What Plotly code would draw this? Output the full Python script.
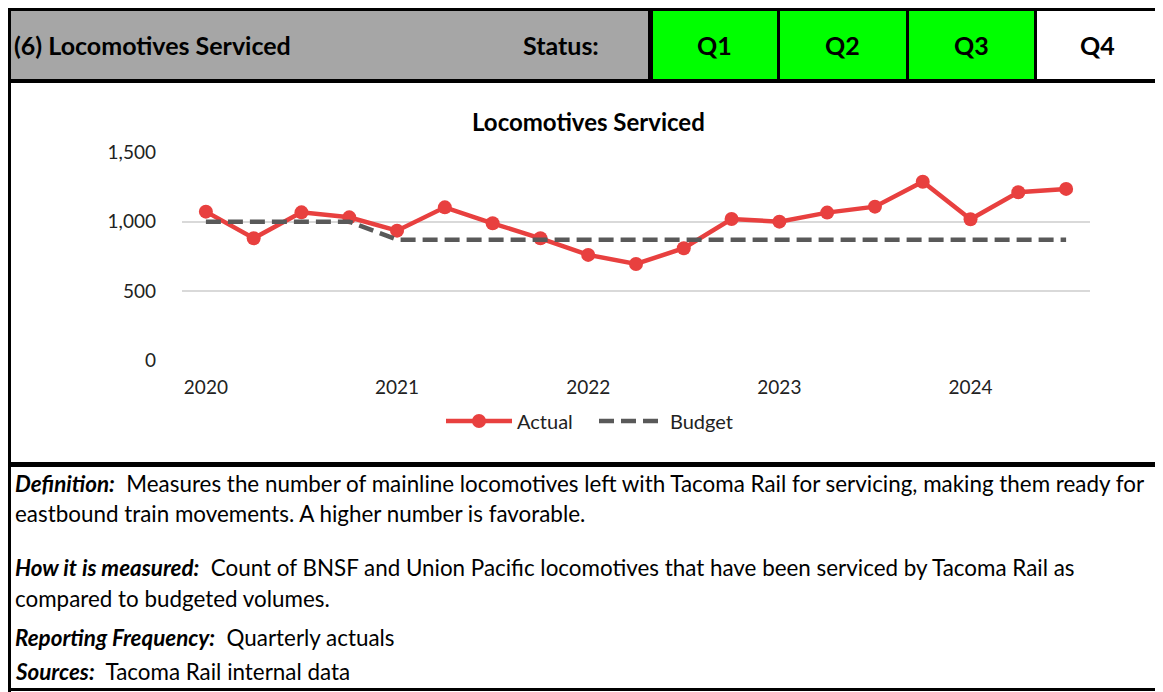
import plotly.graph_objects as go

# The page body has an 8px margin, so the figure is sized to the visible area
# and all positions below are given in reference-picture pixels.
OFF = 8
W, H = 1163 - OFF, 692 - OFF

quarters = ["2020 Q1", "2020 Q2", "2020 Q3", "2020 Q4",
            "2021 Q1", "2021 Q2", "2021 Q3", "2021 Q4",
            "2022 Q1", "2022 Q2", "2022 Q3", "2022 Q4",
            "2023 Q1", "2023 Q2", "2023 Q3", "2023 Q4",
            "2024 Q1", "2024 Q2", "2024 Q3"]
actual = [1072, 880, 1067, 1031, 935, 1103, 988, 880, 760, 695,
          808, 1019, 1000, 1065, 1108, 1288, 1017, 1212, 1236]
budget = [1000, 1000, 1000, 1000, 870, 870, 870, 870, 870, 870,
          870, 870, 870, 870, 870, 870, 870, 870, 870]
year_ticks = [0, 4, 8, 12, 16]
year_labels = ["2020", "2021", "2022", "2023", "2024"]
y_ticks = [0, 500, 1000, 1500]
y_labels = ["0", "500", "1,000", "1,500"]

status_labels = ["Q1", "Q2", "Q3", "Q4"]
status_colors = ["#00FF00", "#00FF00", "#00FF00", "#FFFFFF"]

FONT = "Lato"

def px(x):
    return (x - OFF) / W

def py(y):
    return 1 - (y - OFF) / H

xidx = list(range(len(quarters)))

fig = go.Figure()
fig.add_trace(go.Scatter(
    x=xidx, y=actual, name="Actual", mode="lines+markers",
    line=dict(color="#E8403F", width=4.5),
    marker=dict(color="#E8403F", size=14, symbol="circle"),
    text=quarters, hovertemplate="%{text}: %{y:,}<extra>Actual</extra>"))
fig.add_trace(go.Scatter(
    x=xidx, y=budget, name="Budget", mode="lines",
    line=dict(color="#595959", width=4.5, dash="15px,7px"),
    text=quarters, hovertemplate="%{text}: %{y:,}<extra>Budget</extra>"))

shapes = []
def rect(x0, y0, x1, y1, fill, layer="below"):
    shapes.append(dict(type="rect", xref="paper", yref="paper",
                       x0=px(x0), x1=px(x1), y0=py(y1), y1=py(y0),
                       fillcolor=fill, line=dict(width=0), layer=layer))

# header block
rect(8, 8, 1163, 83, "#000000")
rect(11, 11, 648, 79, "#A6A6A6")
cells = [(653, 777), (780, 906), (909, 1034), (1037, 1158)]
for (a, b), c in zip(cells, status_colors):
    rect(a, 11, b, 79, c)
# chart / text area borders
rect(8, 83, 11, 692, "#000000")
rect(1159, 83, 1162, 692, "#000000")
rect(8, 462, 1163, 467, "#000000")
rect(8, 688, 1163, 691, "#000000")

ann = []
def text(x, y, s, size, xanchor="left", color="#000000"):
    ann.append(dict(xref="paper", yref="paper", x=px(x), y=py(y), text=s,
                    showarrow=False, xanchor=xanchor, yanchor="middle",
                    font=dict(family=FONT, size=size, color=color)))

text(12, 45, "<b>(6) Locomotives Serviced</b>", 25)
text(561, 45, "<b>Status:</b>", 25, xanchor="center")
for (a, b), lab in zip(cells, status_labels):
    text((a + b) / 2, 45, "<b>" + lab + "</b>", 25, xanchor="center")
text(588, 121, "<b>Locomotives Serviced</b>", 24, xanchor="center")

nb = "\u00a0\u00a0"
TS = 22.4
TX = 13
text(TX, 483, "<b><i>Definition:</i></b>" + nb + "Measures the number of mainline locomotives left with Tacoma Rail for servicing, making them ready for", TS)
text(TX, 513, "eastbound train movements. A higher number is favorable.", TS)
text(TX, 567, "<b><i>How it is measured:</i></b>" + nb + "Count of BNSF and Union Pacific locomotives that have been serviced by Tacoma Rail as", TS)
text(TX, 598, "compared to budgeted volumes.", TS)
text(TX, 637, "<b><i>Reporting Frequency:</i></b>" + nb + "Quarterly actuals", TS)
text(TX, 671, "<b><i>Sources:</i></b>" + nb + "Tacoma Rail internal data", TS)

fig.update_layout(
    width=W, height=H, margin=dict(l=0, r=0, t=0, b=0, pad=0, autoexpand=False),
    paper_bgcolor="#FFFFFF", plot_bgcolor="rgba(0,0,0,0)",
    font=dict(family=FONT, size=19, color="#222222"),
    shapes=shapes, annotations=ann,
    showlegend=True,
    legend=dict(orientation="h", x=px(594), xanchor="center", y=py(421), yanchor="middle",
                font=dict(family=FONT, size=20, color="#222222"),
                itemwidth=66, entrywidth=72, bgcolor="rgba(0,0,0,0)"),
    xaxis=dict(domain=[px(182), px(1090)], range=[-0.5, 18.5], automargin=False,
               tickmode="array", tickvals=year_ticks, ticktext=year_labels,
               showgrid=False, zeroline=False, showline=False, ticks="",
               tickfont=dict(family=FONT, size=19, color="#222222"), ticklabelstandoff=14),
    yaxis=dict(domain=[py(360.3), py(152.3)], range=[0, 1500], automargin=False,
               tickmode="array", tickvals=y_ticks, ticktext=y_labels,
               showgrid=True, gridcolor="#D9D9D9", gridwidth=2,
               zeroline=False, showline=False, ticks="",
               tickfont=dict(family=FONT, size=19, color="#222222"), ticklabelstandoff=25),
)

fig.write_html("out.html")
